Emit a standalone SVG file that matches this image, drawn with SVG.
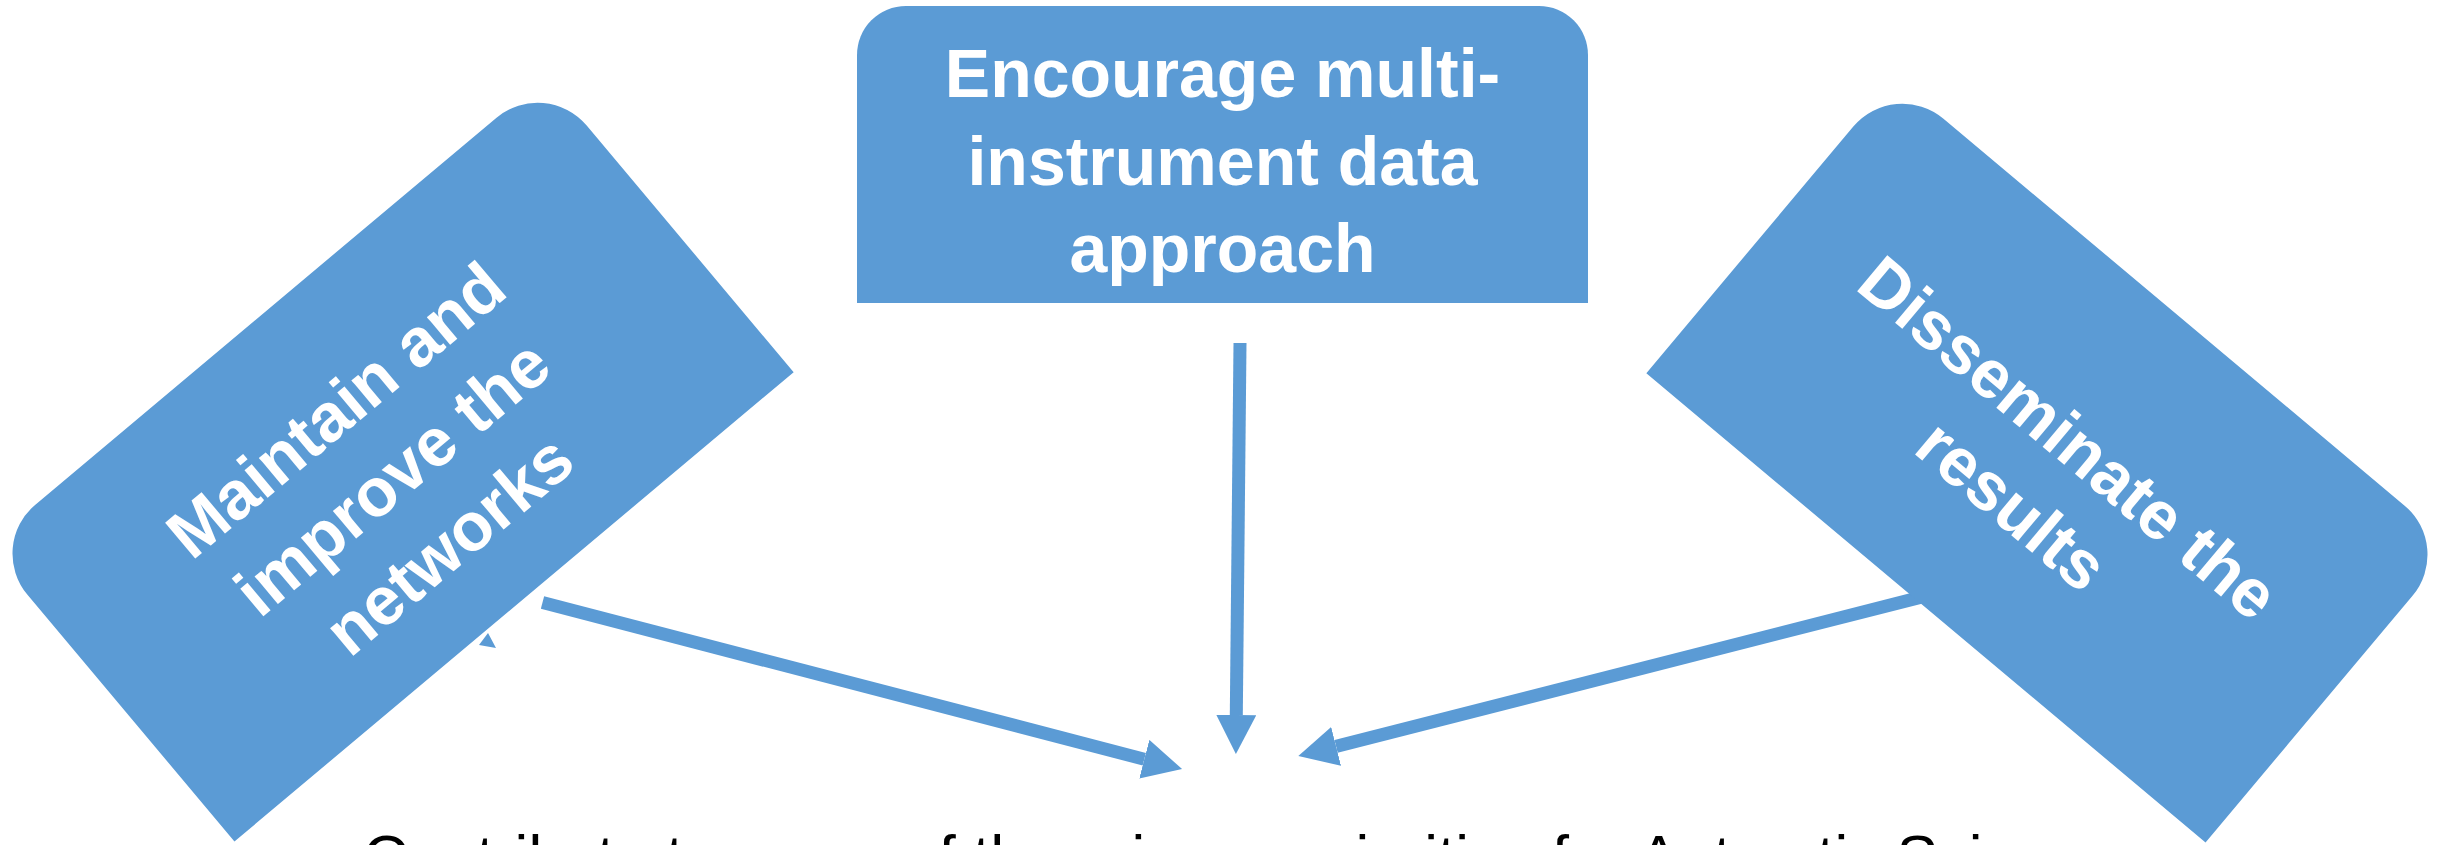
<svg xmlns="http://www.w3.org/2000/svg" width="2448" height="845" viewBox="0 0 2448 845">
  <style>
    .box { fill: #5B9BD5; }
    .label { font-family: "Liberation Sans", Arial, sans-serif; font-weight: bold; font-size: 68px; fill: #FFFFFF; text-anchor: middle; }
    .link { stroke: #5B9BD5; stroke-width: 13; fill: none; }
    .goal { font-family: "Liberation Sans", Arial, sans-serif; font-size: 62px; fill: #000000; }
  </style>
  <defs>
    <marker id="head" markerUnits="userSpaceOnUse" viewBox="0 0 39 40" refX="0" refY="20" markerWidth="39" markerHeight="40" orient="auto">
      <path d="M0,0 L39,20 L0,40 Z" fill="#5B9BD5"/>
    </marker>
    <!-- tab shape: rectangle with the two upper corners rounded, centred on 0,0 -->
    <path id="tab" d="M-365,193 V-129 A64,64 0 0 1 -301,-193 H301 A64,64 0 0 1 365,-129 V193 Z"/>
  </defs>
  <rect width="2448" height="845" fill="#FFFFFF"/>

  <!-- connectors, drawn beneath the boxes -->
  <g id="connectors">
    <line class="link" x1="542.5" y1="602.5" x2="1144.3" y2="759.2" marker-end="url(#head)"/>
    <line class="link" x1="1240" y1="343" x2="1236.3" y2="715" marker-end="url(#head)"/>
    <line class="link" x1="1935" y1="593.6" x2="1336.1" y2="746.4" marker-end="url(#head)"/>
    <polygon points="488,633 479,645 496,648" fill="#5B9BD5"/>
  </g>

  <g id="node-networks" transform="translate(390,459) rotate(-40)">
    <use href="#tab" class="box"/>
    <text class="label" x="-10" y="-49">Maintain and</text>
    <text class="label" x="-10" y="39">improve the</text>
    <text class="label" x="-10" y="127">networks</text>
  </g>

  <g id="node-multi-instrument">
    <path class="box" d="M857,303 V55 A49,49 0 0 1 906,6 H1539 A49,49 0 0 1 1588,55 V303 Z"/>
    <text class="label" x="1222.5" y="97">Encourage multi-</text>
    <text class="label" x="1222.5" y="184.5">instrument data</text>
    <text class="label" x="1222.5" y="272">approach</text>
  </g>

  <g id="node-disseminate" transform="translate(2050,460) rotate(40)">
    <use href="#tab" class="box"/>
    <text class="label" x="0" y="-5.5">Disseminate the</text>
    <text class="label" x="0" y="82.5">results</text>
  </g>

  <g id="node-goal">
    <text class="goal" x="363" y="878">Contribute to some of the primary priorities for Antarctic Science</text>
  </g>
</svg>
